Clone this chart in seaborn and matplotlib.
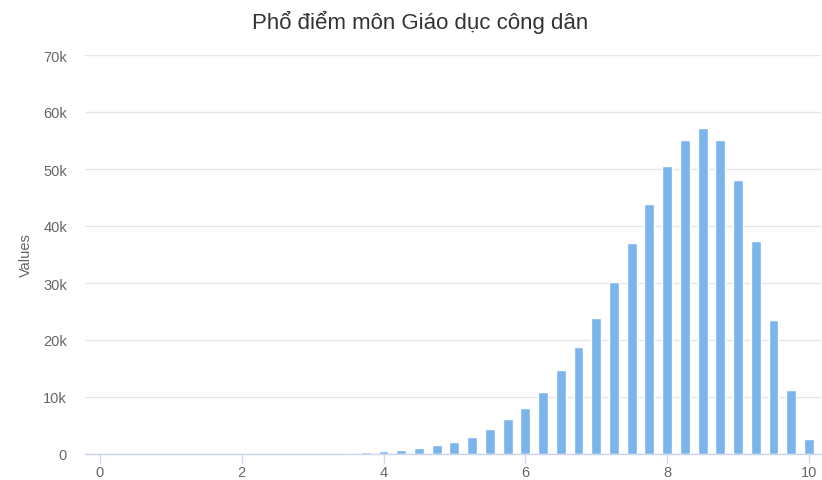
import numpy as np
import pandas as pd
import seaborn as sns
import matplotlib.pyplot as plt
from matplotlib.ticker import FuncFormatter

# Điểm GDCD, bước 0.25
diem = [0.0, 0.25, 0.5, 0.75, 1.0, 1.25, 1.5, 1.75, 2.0, 2.25, 2.5, 2.75,
        3.0, 3.25, 3.5, 3.75, 4.0, 4.25, 4.5, 4.75, 5.0, 5.25, 5.5, 5.75,
        6.0, 6.25, 6.5, 6.75, 7.0, 7.25, 7.5, 7.75, 8.0, 8.25, 8.5, 8.75,
        9.0, 9.25, 9.5, 9.75, 10.0]
so_luong = [2, 0, 1, 3, 5, 8, 12, 15, 20, 25, 35, 50,
            60, 80, 110, 350, 520, 720, 1050, 1500, 2100, 3000, 4350, 6100,
            8050, 10900, 14650, 18800, 23850, 30200, 37000, 43800, 50600, 55050, 57250, 55050,
            48000, 37450, 23450, 11200, 2650]
y_ticks = [0, 10000, 20000, 30000, 40000, 50000, 60000, 70000]
x_ticks = [0, 2, 4, 6, 8, 10]
tieu_de = "Phổ điểm môn Giáo dục công dân"

sns.set_style("white")
plt.rcParams['font.family'] = ['Liberation Sans', 'DejaVu Sans']

df = pd.DataFrame({'diem': diem, 'so_luong': so_luong})

fig = plt.figure(figsize=(8.22, 4.81), dpi=100)
ax = fig.add_axes([85 / 822, 26 / 481, 736 / 822, 399 / 481])

sns.barplot(data=df, x='diem', y='so_luong', native_scale=True, width=0.56,
            color='#7cb5ec', saturation=1, ax=ax, zorder=3)

ax.set_xlim(-0.21, 10.17)
ax.set_ylim(0, 70000)
ax.set_xticks(x_ticks)
ax.set_yticks(y_ticks)
ax.xaxis.set_major_formatter(FuncFormatter(lambda v, p: f'{v:g}'))
ax.yaxis.set_major_formatter(FuncFormatter(lambda v, p: '0' if v == 0 else f'{v / 1000:g}k'))

ax.grid(axis='y', color='#e6e6e6', linewidth=1, zorder=0)
ax.grid(axis='x', visible=False)
for s in ['top', 'right', 'left']:
    ax.spines[s].set_visible(False)
ax.spines['bottom'].set_color('#ccd6eb')
ax.spines['bottom'].set_linewidth(1)
ax.spines['bottom'].set_zorder(4)

ax.tick_params(axis='x', colors='#666666', labelsize=10.5, length=6.5, width=1,
               direction='out', pad=1.5, bottom=True)
ax.tick_params(axis='x', color='#ccd6eb')
ax.tick_params(axis='y', colors='#666666', labelsize=10.5, length=0, pad=13)

ax.set_xlabel('')
ax.set_ylabel('Values', color='#666666', fontsize=10.5)
ax.yaxis.set_label_coords(-0.071, 0.5)

fig.text(0.511, 1 - 22 / 481, tieu_de, ha='center', va='center',
         fontsize=16, color='#333333')

fig.savefig('out.png', dpi=100)
